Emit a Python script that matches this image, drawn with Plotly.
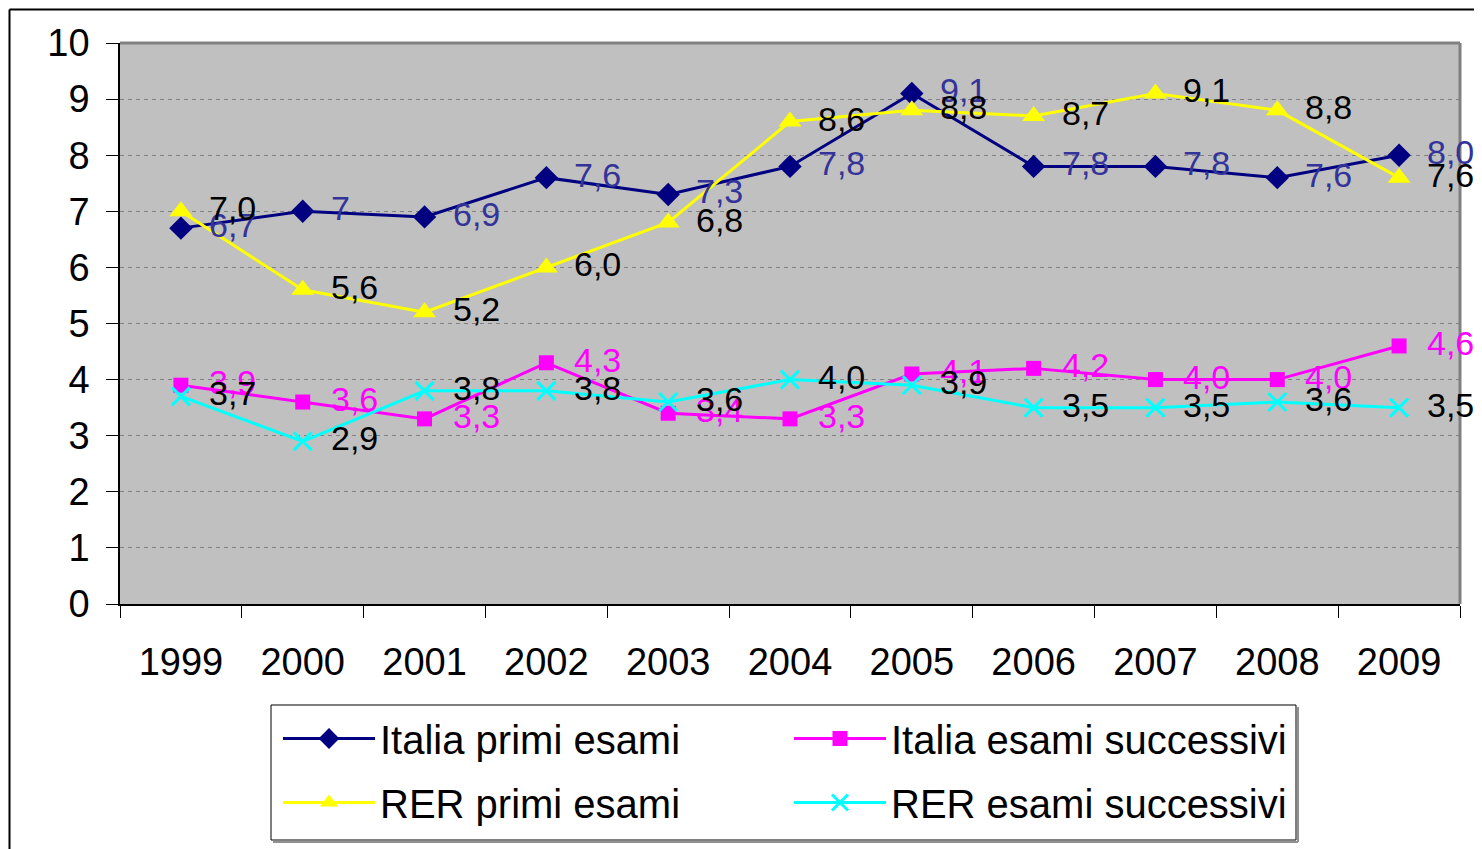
import plotly.graph_objects as go

years = ["1999", "2000", "2001", "2002", "2003", "2004", "2005", "2006", "2007", "2008", "2009"]

italia_primi = [6.7, 7.0, 6.9, 7.6, 7.3, 7.8, 9.1, 7.8, 7.8, 7.6, 8.0]
rer_primi = [7.0, 5.6, 5.2, 6.0, 6.8, 8.6, 8.8, 8.7, 9.1, 8.8, 7.6]
italia_succ = [3.9, 3.6, 3.3, 4.3, 3.4, 3.3, 4.1, 4.2, 4.0, 4.0, 4.6]
rer_succ = [3.7, 2.9, 3.8, 3.8, 3.6, 4.0, 3.9, 3.5, 3.5, 3.6, 3.5]

italia_primi_labels = ["6,7", "7", "6,9", "7,6", "7,3", "7,8", "9,1", "7,8", "7,8", "7,6", "8,0"]
rer_primi_labels = ["7,0", "5,6", "5,2", "6,0", "6,8", "8,6", "8,8", "8,7", "9,1", "8,8", "7,6"]
italia_succ_labels = ["3,9", "3,6", "3,3", "4,3", "3,4", "3,3", "4,1", "4,2", "4,0", "4,0", "4,6"]
rer_succ_labels = ["3,7", "2,9", "3,8", "3,8", "3,6", "4,0", "3,9", "3,5", "3,5", "3,6", "3,5"]

y_ticks = list(range(0, 11))

FONT = "Liberation Sans, Arial, sans-serif"

series = [
    dict(name="Italia primi esami", y=italia_primi, labels=italia_primi_labels,
         color="#000080", label_color="#333399", legend="legend",
         marker=dict(symbol="diamond", size=18, color="#000080")),
    dict(name="Italia esami successivi", y=italia_succ, labels=italia_succ_labels,
         color="#FF00FF", label_color="#FF00FF", legend="legend",
         marker=dict(symbol="square", size=15, color="#FF00FF")),
    dict(name="RER primi esami", y=rer_primi, labels=rer_primi_labels,
         color="#FFFF00", label_color="#000000", legend="legend2",
         marker=dict(symbol="triangle-up", size=20, color="#FFFF00")),
    dict(name="RER esami successivi", y=rer_succ, labels=rer_succ_labels,
         color="#00FFFF", label_color="#000000", legend="legend2",
         marker=dict(symbol="x-thin-open", size=18, color="#00FFFF",
                     line=dict(color="#00FFFF", width=3))),
]

fig = go.Figure()
annotations = []
for s in series:
    fig.add_trace(go.Scatter(
        x=years, y=s["y"], name=s["name"], mode="lines+markers",
        line=dict(color=s["color"], width=3),
        marker=s["marker"], legend=s["legend"],
    ))
    for i, (yv, lab) in enumerate(zip(s["y"], s["labels"])):
        annotations.append(dict(
            xref="x", yref="y", x=i, y=yv, text=lab, showarrow=False,
            xanchor="left", yanchor="middle",
            xshift=26, yshift=3,
            font=dict(family=FONT, size=34, color=s["label_color"]),
        ))

# figure is drawn 8px inside the page (body margin); geometry in figure px
L, R, T, B = 112, 22, 35, 245
W, H = 1474, 841
pw, ph = W - L - R, H - T - B
def px(xp):
    return (xp - L) / pw
def py(yp):
    return (H - B - yp) / ph

shapes = [
    # chart frame lines
    dict(type="line", xref="paper", yref="paper", x0=px(1.5), x1=px(W + 5), y0=py(1.5), y1=py(1.5),
         line=dict(color="#000000", width=2)),
    dict(type="line", xref="paper", yref="paper", x0=px(1.5), x1=px(1.5), y0=py(1.5), y1=py(H + 5),
         line=dict(color="#000000", width=2)),
    # plot area top/right gray border
    dict(type="line", xref="x domain", yref="y domain", x0=0, x1=1, y0=1, y1=1,
         line=dict(color="#808080", width=3)),
    dict(type="line", xref="x domain", yref="y domain", x0=1, x1=1, y0=0, y1=1,
         line=dict(color="#808080", width=3)),
    # legend box shadow + frame
    dict(type="line", xref="paper", yref="paper", x0=px(265), x1=px(1290), y0=py(834), y1=py(834),
         line=dict(color="#909090", width=2)),
    dict(type="line", xref="paper", yref="paper", x0=px(1290), x1=px(1290), y0=py(699), y1=py(834),
         line=dict(color="#909090", width=2)),
    dict(type="rect", xref="paper", yref="paper", x0=px(263), x1=px(1288), y0=py(697), y1=py(832),
         line=dict(color="#000000", width=1)),
]

legend_common = dict(
    orientation="h", xanchor="left", yanchor="top",
    bgcolor="rgba(0,0,0,0)", borderwidth=0,
    font=dict(family=FONT, size=40, color="#000000"),
    entrywidth=404, entrywidthmode="pixels", itemwidth=92,
    traceorder="normal",
)

fig.update_layout(
    width=W, height=H,
    margin=dict(l=L, r=R, t=T, b=B),
    paper_bgcolor="#FFFFFF",
    plot_bgcolor="#C0C0C0",
    font=dict(family=FONT, color="#000000"),
    showlegend=True,
    legend=dict(x=px(270), y=py(698), **legend_common),
    legend2=dict(x=px(270), y=py(762), **legend_common),
    shapes=shapes,
    xaxis=dict(
        type="category", categoryorder="array", categoryarray=years,
        range=[-0.5, 10.5], tickson="boundaries", ticks="outside", ticklen=12,
        tickcolor="#000000", tickwidth=1, showgrid=False,
        showline=True, linecolor="#000000", linewidth=1.5,
        tickfont=dict(family=FONT, size=38, color="#000000"),
        ticklabelstandoff=24,
    ),
    yaxis=dict(
        range=[0, 10], tickvals=y_ticks, ticks="outside", ticklen=12,
        tickcolor="#000000", tickwidth=1,
        showgrid=True, gridcolor="#808080", gridwidth=1, griddash="4px,4px",
        showline=True, linecolor="#000000", linewidth=1.5, zeroline=False,
        tickfont=dict(family=FONT, size=38, color="#000000"),
        ticklabelstandoff=9,
    ),
)
for a in annotations:
    fig.add_annotation(**a)

fig.write_html("out.html")
